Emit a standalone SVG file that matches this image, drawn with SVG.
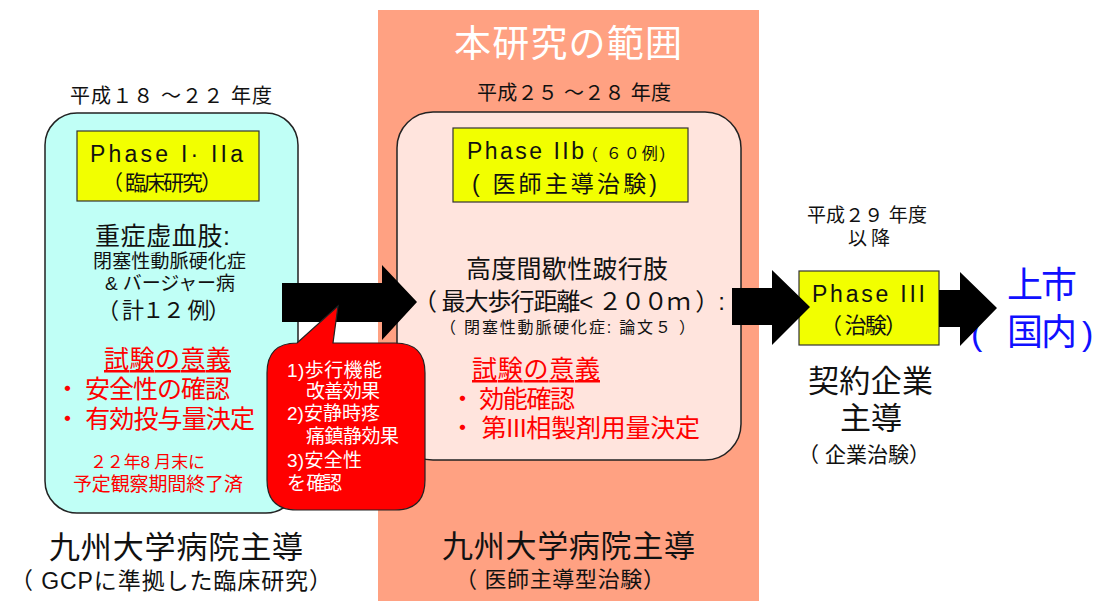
<svg xmlns="http://www.w3.org/2000/svg" width="1098" height="601" viewBox="0 0 1098 601">
<style>
text{font-family:"Liberation Sans","Noto Sans CJK JP",sans-serif;fill:#111;}
.w{fill:#fff;}
.r{fill:#ff0000;}
.b{fill:#1010ff;}
.ybox{fill:#f2ff00;stroke:#333;stroke-width:1.2;}
.arrow{fill:#000;}
</style>
<rect x="0" y="0" width="1098" height="601" fill="#fff"/>
<g id="scope-panel">
<rect x="378" y="10" width="381" height="591" fill="#ffa182"/>
<text class="w" x="454" y="57" font-size="37" textLength="228">本研究の範囲</text>
<text x="477" y="100" font-size="20" textLength="194">平成２５ ～２８ 年度</text>
<text x="442" y="557" font-size="31" textLength="253">九州大学病院主導</text>
<text x="455" y="587" font-size="22" textLength="210">（ 医師主導型治験）</text>
</g>
<g id="phase1">
<text x="70" y="103" font-size="20" textLength="202">平成１８ ～２２ 年度</text>
<rect x="45" y="113" width="253" height="400" rx="32" ry="32" fill="#c0fff6" stroke="#222" stroke-width="1.5"/>
<rect class="ybox" x="77" y="131" width="182" height="70"/>
<text x="90" y="162" font-size="23" textLength="153">Phase I· IIa</text>
<text x="102" y="190" font-size="21" textLength="120">（ 臨床研究）</text>
<text x="95" y="245" font-size="25" textLength="135">重症虚血肢:</text>
<text x="93" y="268" font-size="19" textLength="153">閉塞性動脈硬化症</text>
<text x="105" y="290" font-size="19" textLength="130">&amp; バージャー病</text>
<text x="97" y="318" font-size="22" textLength="133">（ 計１２ 例）</text>
<text class="r" x="104" y="368" font-size="25" textLength="127" text-decoration="underline">試験の意義</text>
<text class="r" x="55" y="398" font-size="25" textLength="175">・ 安全性の確認</text>
<text class="r" x="55" y="428" font-size="25" textLength="200">・ 有効投与量決定</text>
<text class="r" x="90" y="468" font-size="17" textLength="115">２２年8 月末に</text>
<text class="r" x="73" y="491" font-size="19" textLength="170">予定観察期間終了済</text>
<text x="49" y="558" font-size="31" textLength="254">九州大学病院主導</text>
<text x="10" y="589" font-size="23" textLength="322">（ GCPに準拠した臨床研究）</text>
</g>
<g id="phase2b">
<rect x="397" y="112" width="344" height="348" rx="36" ry="36" fill="#ffe4dd" stroke="#222" stroke-width="1.5"/>
<rect class="ybox" x="453" y="128" width="235" height="74"/>
<text x="467" y="159" font-size="23" textLength="117">Phase IIb</text>
<text x="592" y="159" font-size="16" textLength="73">( ６０例)</text>
<text x="472" y="192" font-size="23" textLength="185">( 医師主導治験)</text>
<text x="466" y="278" font-size="25" textLength="202">高度間歇性跛行肢</text>
<text x="413" y="310" font-size="24" textLength="312">（ 最大歩行距離&lt; ２００ｍ ）:</text>
<text x="440" y="333" font-size="16" textLength="255">（ 閉塞性動脈硬化症: 論文５ ）</text>
<text class="r" x="472" y="378" font-size="25" textLength="128" text-decoration="underline">試験の意義</text>
<text class="r" x="450" y="408" font-size="25" textLength="125">・ 効能確認</text>
<text class="r" x="450" y="437" font-size="25" textLength="250">・ 第III相製剤用量決定</text>
</g>
<g id="phase3">
<text x="807" y="222" font-size="19" textLength="120">平成２９ 年度</text>
<text x="848" y="245" font-size="19" textLength="42">以降</text>
<rect class="ybox" x="799" y="271" width="140" height="74"/>
<text x="812" y="302" font-size="23" textLength="113">Phase III</text>
<text x="820" y="333" font-size="22" textLength="87">（ 治験）</text>
<text x="808" y="392" font-size="31" textLength="125">契約企業</text>
<text x="840" y="429" font-size="31" textLength="62">主導</text>
<text x="798" y="462" font-size="21" textLength="132">（ 企業治験）</text>
</g>
<g id="market">
<text class="b" x="1007" y="298" font-size="36" textLength="70">上市</text>
<text class="b" x="971" y="345" font-size="34">(</text>
<text class="b" x="1007" y="345" font-size="36" textLength="70">国内</text>
<text class="b" x="1082" y="345" font-size="34">)</text>
</g>
<g id="connectors">
<polygon class="arrow" points="282,283 382,283 382,265 417,302 382,340 382,322 282,322"/>
<polygon class="arrow" points="732,288 772,288 772,270 810,307 772,345 772,325 732,325"/>
<polygon class="arrow" points="939,290 960,290 960,272 997,308 960,346 960,327 939,327"/>
</g>
<g id="callout">
<path d="M297,343 L338,306 L333,343 L395,343 Q425,343 425,373 L425,480 Q425,510 395,510 L297,510 Q267,510 267,480 L267,373 Q267,343 297,343 Z" fill="#ff0000" stroke="#222" stroke-width="1.2"/>
<text class="w" x="287" y="377" font-size="19" textLength="95">1)歩行機能</text>
<text class="w" x="306" y="398" font-size="19" textLength="74">改善効果</text>
<text class="w" x="287" y="420" font-size="19" textLength="93">2)安静時疼</text>
<text class="w" x="306" y="443" font-size="19" textLength="93">痛鎮静効果</text>
<text class="w" x="287" y="467" font-size="19" textLength="75">3)安全性</text>
<text class="w" x="287" y="490" font-size="19" textLength="55">を 確認</text>
</g>
</svg>
